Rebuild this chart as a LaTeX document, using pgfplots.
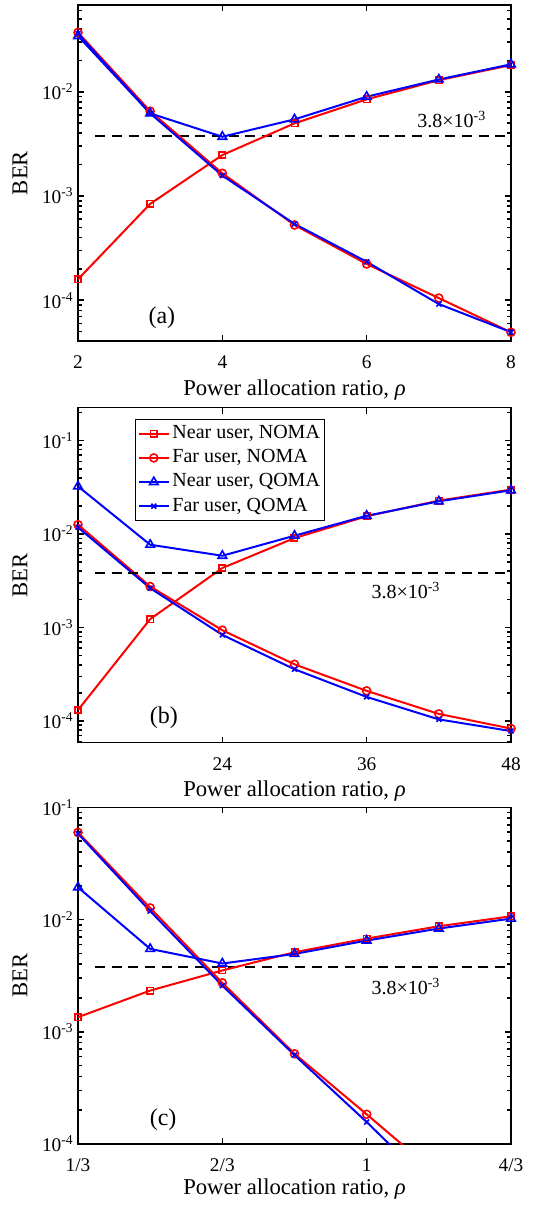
\documentclass[border=0pt]{standalone}
\usepackage{fontspec}
\setmainfont{Liberation Serif}
\usepackage{pgfplots}
\pgfplotsset{compat=1.18}

\pgfplotsset{
  legend image code/.code={
    \draw[mark repeat=2,mark phase=2,#1] plot coordinates {(0pt,0pt) (11.25pt,0pt) (22.5pt,0pt)};},
  every axis/.append style={
    scale only axis, width=324.75pt,
    axis line style={line width=1.2pt},
    every tick/.style={black, line width=1.2pt},
    tick align=inside, major tick length=4.5pt, minor tick length=3pt,
    tick label style={font=\fontsize{14.5}{16}\selectfont},
    label style={font=\fontsize{17}{20}\selectfont},
    xticklabel style={anchor=base, yshift=-20.5pt},
    ylabel={BER},
    ylabel style={at={(axis description cs:-0.134,0.5)}, anchor=center},
    xlabel={Power allocation ratio, \textit{ρ}},
    xlabel style={at={(axis description cs:0.5,0)}, anchor=base, yshift=-41pt},
  },
}
\tikzset{
  nn/.style={red, line width=1.5pt, mark=square, mark size=2.4pt, mark options={solid, line width=1.2pt}},
  fn/.style={red, line width=1.5pt, mark=o, mark size=3pt, mark options={solid, line width=1.2pt}},
  nq/.style={blue, line width=1.5pt, mark=triangle, mark size=3.7pt, mark options={solid, line width=1.2pt}},
  fq/.style={blue, line width=1.5pt, mark=x, mark size=2.6pt, mark options={solid, line width=1.2pt}},
  thr/.style={black, line width=1.5pt, dash pattern=on 7.5pt off 5pt},
  ann/.style={anchor=base west, font=\fontsize{15}{18}\selectfont},
  pan/.style={anchor=base west, font=\fontsize{18}{21}\selectfont},
}

\begin{document}
\begin{tikzpicture}
\path[use as bounding box] (-58.5pt,0pt) rectangle (342.75pt,-903.75pt);

% (a)
\begin{semilogyaxis}[at={(0pt,-255.75pt)}, anchor=south west, height=252pt,
  xmin=2, xmax=8, ymin=4.07e-5, ymax=0.0678,
  xtick={2,4,6,8}, xticklabels={2,4,6,8},
  ytick={1e-4,1e-3,1e-2},
  yticklabels={10\textsuperscript{-4},10\textsuperscript{-3},10\textsuperscript{-2}},
  minor ytick={5e-5,6e-5,7e-5,8e-5,9e-5,2e-4,3e-4,4e-4,5e-4,6e-4,7e-4,8e-4,9e-4,
    2e-3,3e-3,4e-3,5e-3,6e-3,7e-3,8e-3,9e-3,2e-2,3e-2,4e-2,5e-2,6e-2}]
\addplot[thr, forget plot] coordinates {(2.24,3.8e-3) (8,3.8e-3)};
\addplot[nn] coordinates {(2,1.59e-4) (3,8.4e-4) (4,2.47e-3) (5,4.97e-3) (6,8.45e-3) (7,1.29e-2) (8,1.8e-2)};
\addplot[fn] coordinates {(2,3.7e-2) (3,6.5e-3) (4,1.65e-3) (5,5.27e-4) (6,2.23e-4) (7,1.05e-4) (8,4.93e-5)};
\addplot[nq] coordinates {(2,3.42e-2) (3,6.2e-3) (4,3.7e-3) (5,5.43e-3) (6,8.95e-3) (7,1.31e-2) (8,1.83e-2)};
\addplot[fq] coordinates {(2,3.6e-2) (3,6.2e-3) (4,1.57e-3) (5,5.4e-4) (6,2.34e-4) (7,9.2e-5) (8,4.95e-5)};
\node[ann] at (axis description cs:0.773,0.636) {3.8×10\textsuperscript{-3}};
\node[pan] at (axis description cs:0.152,0.053) {(a)};
\end{semilogyaxis}

% (b)
\begin{semilogyaxis}[at={(0pt,-557pt)}, anchor=south west, height=251.25pt,
  xmin=12, xmax=48, ymin=5.86e-5, ymax=0.225,
  xtick={24,36,48}, xticklabels={24,36,48},
  ytick={1e-4,1e-3,1e-2,1e-1},
  yticklabels={10\textsuperscript{-4},10\textsuperscript{-3},10\textsuperscript{-2},10\textsuperscript{-1}},
  minor ytick={6e-5,7e-5,8e-5,9e-5,2e-4,3e-4,4e-4,5e-4,6e-4,7e-4,8e-4,9e-4,
    2e-3,3e-3,4e-3,5e-3,6e-3,7e-3,8e-3,9e-3,2e-2,3e-2,4e-2,5e-2,6e-2,7e-2,8e-2,9e-2,2e-1},
  xlabel style={yshift=0.5pt},
  legend style={at={(axis description cs:0.132,0.966)}, anchor=north west,
    draw=black, line width=1pt, inner sep=1.5pt, row sep=0pt,
    font=\fontsize{15}{18}\selectfont,
    nodes={inner sep=2pt, text height=10.7pt, text depth=3.4pt},
    cells={anchor=west}}]
\addplot[nn] coordinates {(12,1.31e-4) (18,1.23e-3) (24,4.33e-3) (30,9.06e-3) (36,1.55e-2) (42,2.28e-2) (48,2.99e-2)};
\addplot[fn] coordinates {(12,1.26e-2) (18,2.75e-3) (24,9.36e-4) (30,4.04e-4) (36,2.1e-4) (42,1.19e-4) (48,8.3e-5)};
\addplot[nq] coordinates {(12,3.24e-2) (18,7.69e-3) (24,5.86e-3) (30,9.6e-3) (36,1.57e-2) (42,2.24e-2) (48,2.94e-2)};
\addplot[fq] coordinates {(12,1.18e-2) (18,2.64e-3) (24,8.34e-4) (30,3.58e-4) (36,1.81e-4) (42,1.04e-4) (48,7.8e-5)};
\addplot[thr, forget plot] coordinates {(13.4,3.8e-3) (48,3.8e-3)};
\legend{{Near user, NOMA}, {Far user, NOMA}, {Near user, QOMA}, {Far user, QOMA}}
\node[ann] at (axis description cs:0.667,0.429) {3.8×10\textsuperscript{-3}};
\node[pan] at (axis description cs:0.155,0.058) {(b)};
\end{semilogyaxis}

% (c)
\begin{semilogyaxis}[at={(0pt,-858pt)}, anchor=south west, height=252.5pt,
  xmin=0.33333, xmax=1.33333, ymin=1e-4, ymax=1e-1,
  xtick={0.33333,0.66667,1,1.33333}, xticklabels={1/3,2/3,1,4/3},
  ytick={1e-4,1e-3,1e-2,1e-1},
  yticklabels={10\textsuperscript{-4},10\textsuperscript{-3},10\textsuperscript{-2},10\textsuperscript{-1}},
  minor ytick={2e-4,3e-4,4e-4,5e-4,6e-4,7e-4,8e-4,9e-4,
    2e-3,3e-3,4e-3,5e-3,6e-3,7e-3,8e-3,9e-3,2e-2,3e-2,4e-2,5e-2,6e-2,7e-2,8e-2,9e-2},
  xlabel style={yshift=3pt}]
\addplot[thr, forget plot] coordinates {(0.3726,3.8e-3) (1.33333,3.8e-3)};
\addplot[nn] coordinates {(0.33333,1.35e-3) (0.5,2.33e-3) (0.66667,3.52e-3) (0.83333,5.12e-3) (1,6.77e-3) (1.16667,8.72e-3) (1.33333,1.07e-2)};
\addplot[fn, mark indices={1,2,3,4,5}] coordinates {(0.33333,5.98e-2) (0.5,1.27e-2) (0.66667,2.73e-3) (0.83333,6.37e-4) (1,1.84e-4) (1.16667,5.2e-5) (1.33333,1.5e-5)};
\addplot[nq] coordinates {(0.33333,1.94e-2) (0.5,5.48e-3) (0.66667,4.06e-3) (0.83333,4.94e-3) (1,6.5e-3) (1.16667,8.32e-3) (1.33333,1.02e-2)};
\addplot[fq, mark indices={1,2,3,4,5}] coordinates {(0.33333,5.83e-2) (0.5,1.19e-2) (0.66667,2.58e-3) (0.83333,6.2e-4) (1,1.57e-4) (1.16667,3.7e-5) (1.33333,9e-6)};
\node[ann] at (axis description cs:0.667,0.4455) {3.8×10\textsuperscript{-3}};
\node[pan] at (axis description cs:0.155,0.056) {(c)};
\end{semilogyaxis}
\end{tikzpicture}
\end{document}
